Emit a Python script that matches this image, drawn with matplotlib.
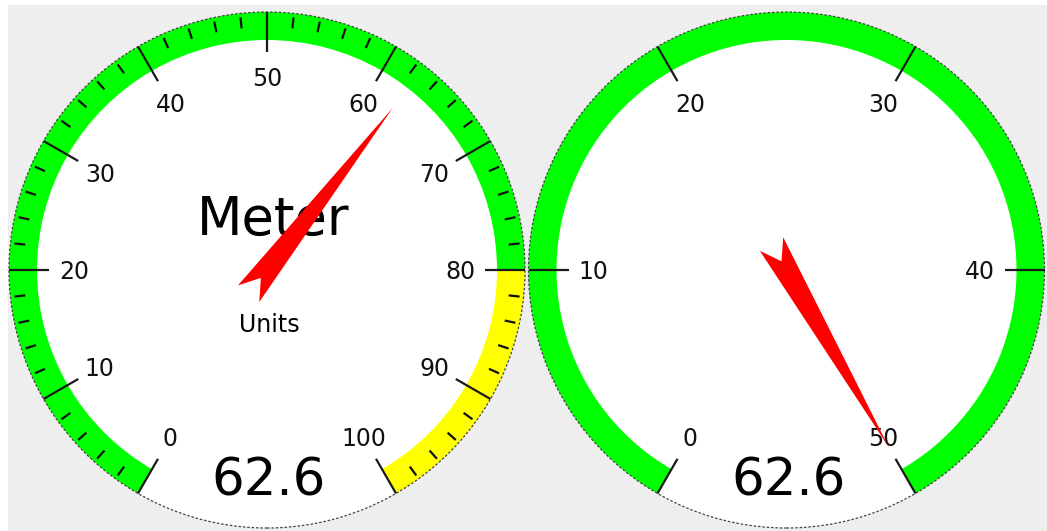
import numpy as np
import matplotlib
matplotlib.use("Agg")
import matplotlib.pyplot as plt
from matplotlib.patches import Wedge, Circle, Rectangle, Polygon

# ---- data ----
value = 62.6
left_range = [0, 100]
left_major = [0, 10, 20, 30, 40, 50, 60, 70, 80, 90, 100]
left_minor_step = 2
left_bands = [(0, 80, "#00FF00"), (80, 100, "#FFFF00")]
left_title = "Meter"
left_units = "Units"

right_range = [0, 50]
right_major = [0, 10, 20, 30, 40, 50]
right_bands = [(0, 50, "#00FF00")]

# ---- layout ----
W, H = 1047, 531
fig = plt.figure(figsize=(W / 100, H / 100), dpi=100)
fig.patch.set_facecolor("white")
ax = fig.add_axes([0, 0, 1, 1])
ax.set_xlim(0, W)
ax.set_ylim(0, H)
ax.set_aspect("equal")
ax.axis("off")

ax.add_patch(Rectangle((8, 0), W - 8, H - 5, facecolor="#EEEEEE", edgecolor="none", zorder=0))

R = 258
BAND_W = 28
START, EXTENT = 240.0, 300.0


def ang(v, lo, hi):
    v = min(max(v, lo), hi)
    return START - (v - lo) / (hi - lo) * EXTENT


def pt(cx, cy, r, a):
    t = np.radians(a)
    return cx + r * np.cos(t), cy + r * np.sin(t)


def gauge(cx, cy, rng, majors, bands, minor_step=None, title=None, units=None):
    lo, hi = rng
    ax.add_patch(Circle((cx, cy), R, facecolor="white", edgecolor="none", zorder=1))
    for b0, b1, col in bands:
        ax.add_patch(Wedge((cx, cy), R, ang(b1, lo, hi), ang(b0, lo, hi), width=BAND_W,
                           facecolor=col, edgecolor="none", zorder=2))
    ax.add_patch(Circle((cx, cy), R, facecolor="none", edgecolor="#444444", lw=0.9,
                        linestyle=(0, (2, 1.5)), zorder=3))
    if minor_step:
        for v in np.arange(lo, hi + 1e-9, minor_step):
            if any(abs(v - m) < 1e-9 for m in majors):
                continue
            a = ang(v, lo, hi)
            x0, y0 = pt(cx, cy, R - 4, a)
            x1, y1 = pt(cx, cy, R - 15, a)
            ax.plot([x0, x1], [y0, y1], color="#111111", lw=1.6, zorder=4, solid_capstyle="butt")
    for m in majors:
        a = ang(m, lo, hi)
        x0, y0 = pt(cx, cy, R, a)
        x1, y1 = pt(cx, cy, R - 40, a)
        ax.plot([x0, x1], [y0, y1], color="#1a1a1a", lw=1.6, zorder=4, solid_capstyle="butt")
        lx, ly = pt(cx, cy, 193, a)
        ax.text(lx, ly - 9, f"{m:g}", ha="center", va="baseline", fontsize=17,
                color="#111111", family="DejaVu Sans", zorder=5)
    if title:
        ax.text(cx + 6, cy + 35, title, ha="center", va="baseline", fontsize=38,
                color="black", zorder=5)
    if units:
        ax.text(cx + 2, cy - 62, units, ha="center", va="baseline", fontsize=17,
                color="black", zorder=5)
    ax.text(cx + 2, 36, f"{value:.1f}", ha="center", va="baseline", fontsize=37,
            color="black", zorder=5)
    # needle
    a = ang(value, lo, hi)
    t = np.radians(a)
    u = np.array([np.cos(t), np.sin(t)])
    p = np.array([-np.sin(t), np.cos(t)])
    c = np.array([cx, cy])
    tip = c + 205 * u
    pr1 = c - 30 * u + 13.5 * p
    notch = c - 10 * u
    pr2 = c - 30 * u - 13.5 * p
    ax.add_patch(Polygon([tip, pr1, notch, pr2], closed=True, facecolor="#FF0000",
                         edgecolor="none", zorder=6))


gauge(267, H - 270, left_range, left_major, left_bands, left_minor_step, left_title, left_units)
gauge(786.5, H - 270, right_range, right_major, right_bands)

fig.savefig("out.png", dpi=100, facecolor=fig.get_facecolor())
